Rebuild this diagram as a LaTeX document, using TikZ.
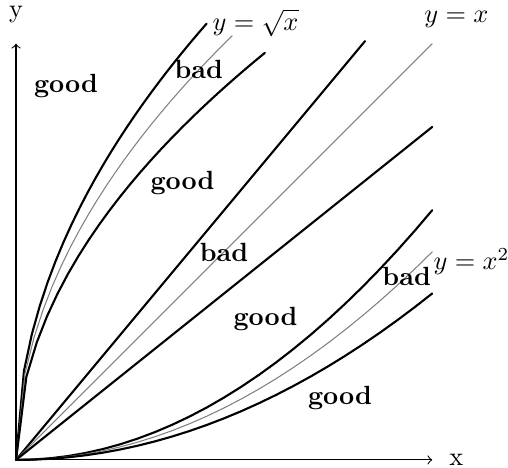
\documentclass[tikz,border=0pt]{standalone}
\begin{document}
\begin{tikzpicture}[x=2.78cm,y=2.78cm,>=to,line join=round,line cap=round,declare function={xmax=2; ymax=2;},curve/.style={black,line width=0.8pt},ref/.style={gray,line width=0.4pt},region/.style={font=\bfseries}]
	\useasboundingbox (-0.077,-0.038) rectangle (2.364,2.21);
	\draw[->,line width=0.4pt] (0,0) -- (xmax,0) node[right=3pt] (xlab) {x};
	\draw[->,line width=0.4pt] (0,0) -- (0,ymax) node[above=4.5pt] (ylab) {y};
	% around y = sqrt(x)
	\draw[curve] plot[domain=0:0.916] (\x,{2*sqrt(1.2*\x)});
	\draw[ref] plot[domain=0:1.039] (\x,{2*sqrt(\x)});
	\draw[curve] plot[domain=0:1.196] (\x,{2*sqrt(0.8*\x)});
	% around y = x
	\draw[curve] (0,0) -- (1.677,{1.2*1.677});
	\draw[ref] (0,0) -- (xmax,ymax);
	\draw[curve] (0,0) -- (xmax,{0.8*xmax});
	% around y = x^2
	\draw[curve] plot[domain=0:xmax] (\x,{0.3*\x*\x});
	\draw[ref] plot[domain=0:xmax] (\x,{0.25*\x*\x});
	\draw[curve] plot[domain=0:xmax] (\x,{0.2*\x*\x});
	\node[inner sep=1pt] (sqrtlab) at (1.151,2.1) {$y=\sqrt{x}$};
	\node (idlab) at (2.116,2.119) {$y=x$};
	\node (sqlab) at (2.189,0.952) {$y=x^2$};
	\node[region] (good1) at (0.240,1.797) {good};
	\node[region] (bad1) at (0.878,1.874) {bad};
	\node[region] (good2) at (0.800,1.329) {good};
	\node[region] (bad2) at (0.999,0.995) {bad};
	\node[region] (good3) at (1.199,0.677) {good};
	\node[region] (bad3) at (1.877,0.884) {bad};
	\node[region] (good4) at (1.557,0.296) {good};
\end{tikzpicture}
\end{document}
